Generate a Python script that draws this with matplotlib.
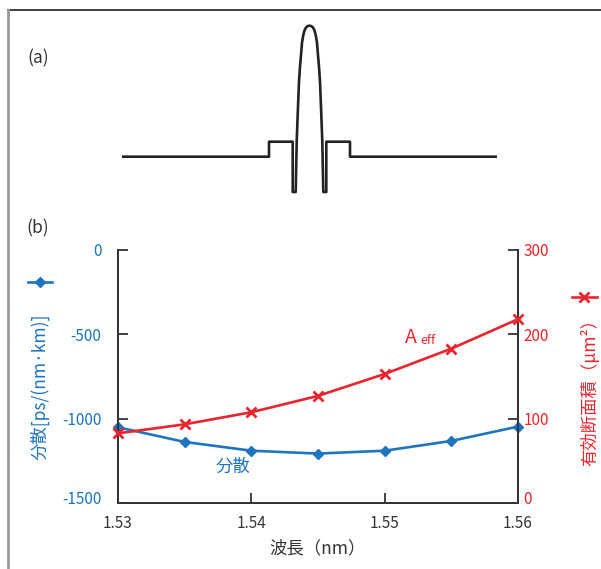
import numpy as np
import matplotlib
matplotlib.use('Agg')
import matplotlib.pyplot as plt
from matplotlib.lines import Line2D
from matplotlib.transforms import ScaledTranslation

plt.rcParams['font.family'] = ['Noto Sans CJK JP', 'DejaVu Sans']
plt.rcParams['axes.unicode_minus'] = False

BLUE = '#1f74be'
RED = '#e8252e'
DARK = '#333333'

# (a) refractive index profile: radius (um) vs relative index difference (%)
core_r = [-4.6, -4.27, -3.87, -3.5, -3.17, -2.83, -2.5, -2.07, -1.67, -1.17, -0.6, 0.0,
          0.6, 1.17, 1.67, 2.07, 2.5, 2.83, 3.17, 3.5, 3.87, 4.27, 4.6]
core_d = [-0.353, 0.15, 0.47, 0.75, 0.90, 1.017, 1.14, 1.217, 1.262, 1.292, 1.306, 1.31,
          1.306, 1.292, 1.262, 1.217, 1.14, 1.017, 0.90, 0.75, 0.47, 0.15, -0.353]
left_r = [-62.5, -13.5, -13.5, -5.6, -5.6]
left_d = [0.0, 0.0, 0.15, 0.15, -0.353]
right_r = [5.6, 5.6, 13.5, 13.5, 62.5]
right_d = [-0.353, 0.15, 0.15, 0.0, 0.0]

# (b) dispersion and effective area vs wavelength
wavelength = [1.530, 1.535, 1.540, 1.545, 1.550, 1.555, 1.560]
dispersion = [-1051, -1138, -1190, -1207, -1190, -1132, -1047]
aeff = [82.6, 93.3, 107.6, 127, 153, 183, 218]

x_ticks = [1.53, 1.54, 1.55, 1.56]
x_labels = ['1.53', '1.54', '1.55', '1.56']
d_ticks = [0, -500, -1000, -1500]
d_labels = ['0', '-500', '-1000', '-1500']
a_ticks = [0, 100, 200, 300]
a_labels = ['0', '100', '200', '300']

W, H = 601, 569
fig = plt.figure(figsize=(W / 100, H / 100), dpi=100)


def px_rect(x0, y0, x1, y1):
    return [x0 / W, (H - y1) / H, (x1 - x0) / W, (y1 - y0) / H]


# frame lines
fig.add_artist(Line2D([8 / W, 1], [(H - 10) / H] * 2, color=DARK, lw=1.3))
fig.add_artist(Line2D([8 / W] * 2, [0, (H - 10) / H], color='#999999', lw=2))

fig.text(38 / W, (H - 58) / H, '(a)', fontsize=12.5, color=DARK, ha='center', va='center')
fig.text(38 / W, (H - 228) / H, '(b)', fontsize=12.5, color=DARK, ha='center', va='center')

# (a) profile
axp = fig.add_axes(px_rect(122, 20, 497, 200))
prof_r = left_r + core_r + right_r
prof_d = left_d + core_d + right_d
axp.plot(prof_r, prof_d, color='#222222', lw=1.9, solid_joinstyle='round')
axp.set_xlim(-62.5, 62.5)
axp.set_ylim(-0.433, 1.367)
axp.axis('off')

# (b) chart
ax = fig.add_axes(px_rect(118, 250, 518, 503))
ax2 = ax.twinx()

ax.plot(wavelength, dispersion, color=BLUE, lw=1.9, marker='D', ms=5.5, clip_on=False, zorder=3)
ax2.plot(wavelength, aeff, color=RED, lw=1.9, marker='x', ms=7, mew=2, clip_on=False, zorder=3)

ax.set_xlim(1.53, 1.56)
ax.set_ylim(-1500, 0)
ax2.set_ylim(0, 300)

ax.set_xticks(x_ticks, x_labels)
ax.set_yticks(d_ticks, d_labels)
ax2.set_yticks(a_ticks, a_labels)

for a in (ax, ax2):
    for s in a.spines.values():
        s.set_color(DARK)
        s.set_linewidth(1.3)
    a.spines['top'].set_visible(False)

ax.tick_params(axis='x', direction='in', length=7, width=1.3, color=DARK, labelsize=11,
               labelcolor=DARK, pad=9)
ax.tick_params(axis='y', direction='in', length=7, width=1.3, color=DARK, labelsize=11,
               labelcolor=BLUE, pad=12)
ax2.tick_params(axis='y', direction='in', length=7, width=1.3, color=DARK, labelsize=11,
                labelcolor=RED, pad=4)

# lowest y labels sit a little above their ticks
lift = ScaledTranslation(0, 5 / 100, fig.dpi_scale_trans)
for lab in (ax.get_yticklabels()[3], ax2.get_yticklabels()[0]):
    lab.set_transform(lab.get_transform() + lift)

ax.set_xlabel('波長（nm）', fontsize=12.5, color=DARK, va='center')
ax.xaxis.set_label_coords(0.5, -0.178)
ax.set_ylabel('分散[ps/(nm·km)]', fontsize=12.5, color=BLUE, va='center')
ax.yaxis.set_label_coords(-0.195, 0.458)
ax2.set_ylabel('有効断面積（μm²）', fontsize=12.5, color=RED, va='center')
ax2.yaxis.set_label_coords(1.18, 0.455)

ax.text(1.5386, -1286, '分散', fontsize=12.5, color=BLUE, ha='center', va='center')
ax2.text(1.5520, 195.7, 'A', fontsize=14, color=RED, ha='center', va='center')
ax2.text(1.5527, 192.5, 'eff', fontsize=9, color=RED, ha='left', va='center')

# legend-like markers beside the axis labels
ax.plot([-0.225, -0.165], [0.8735, 0.8735], color=BLUE, lw=1.9, transform=ax.transAxes, clip_on=False)
ax.plot([-0.195], [0.8735], color=BLUE, marker='D', ms=5.5, transform=ax.transAxes, clip_on=False)
ax2.plot([1.136, 1.198], [0.814, 0.814], color=RED, lw=1.9, transform=ax2.transAxes, clip_on=False)
ax2.plot([1.166], [0.814], color=RED, marker='x', ms=7, mew=2, transform=ax2.transAxes, clip_on=False)

fig.savefig('out.png', dpi=100, facecolor='white')
